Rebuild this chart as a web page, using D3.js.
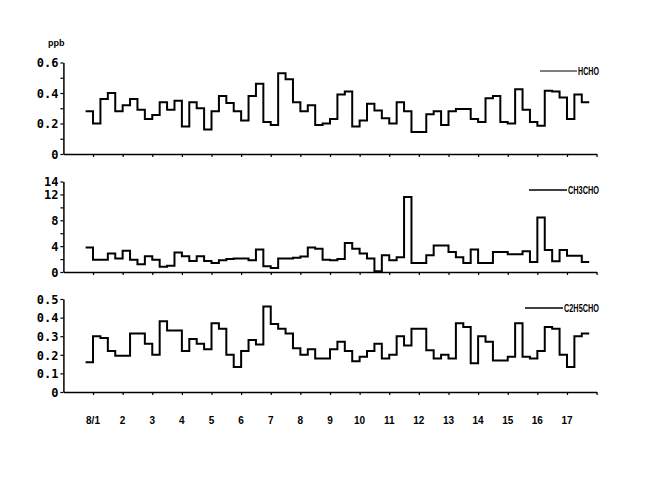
<!DOCTYPE html>
<html>
<head>
<meta charset="utf-8">
<script src="https://cdn.jsdelivr.net/npm/d3@7"></script>
<style>
  html, body { margin: 0; padding: 0; background: #fff; }
  svg { display: block; }
  .ylab { font-family: "DejaVu Sans Mono", monospace; font-weight: bold; font-size: 12px; }
  .xlab { font-family: "Liberation Sans", Arial, sans-serif; font-weight: bold; font-size: 10px; }
  .leg { font-family: "Liberation Sans Narrow", "Liberation Sans", sans-serif; font-weight: bold; font-size: 10px; }
</style>
</head>
<body>
<script>
// ---- data (6-hourly samples, 4 per day, starting 8/1) ----
const dayLabels = ["8/1","2","3","4","5","6","7","8","9","10","11","12","13","14","15","16","17"];

const hcho = [0.28,0.20,0.36,0.40,0.28,0.32,0.36,0.29,0.23,0.255,0.34,0.29,0.35,0.18,0.34,0.30,0.16,0.28,0.38,0.335,0.28,0.22,0.38,0.46,0.21,0.19,0.53,0.49,0.34,0.28,0.32,0.19,
  0.20,0.23,0.39,0.41,0.18,0.22,0.33,0.285,0.235,0.20,0.34,0.28,0.145,0.145,0.26,0.28,0.19,0.28,0.295,0.295,0.23,0.21,0.365,0.38,0.21,0.20,0.425,0.29,0.21,0.185,0.415,0.41,0.37,0.23,0.39,0.34];

const ch3cho = [3.8,1.9,1.9,2.85,2.1,3.3,1.9,1.2,2.45,1.9,0.8,0.95,3.0,2.45,1.7,2.45,1.7,1.4,1.8,2.0,2.1,2.1,1.8,3.5,0.9,0.6,2.1,2.1,2.2,2.4,3.8,3.6,
  1.9,1.8,2.0,4.5,3.6,2.85,2.1,0.1,2.6,1.8,2.3,11.6,1.4,1.4,2.6,4.1,4.1,3.1,2.3,1.4,3.5,1.4,1.4,3.1,3.1,2.75,2.75,3.2,1.55,8.45,3.4,1.65,3.4,2.5,2.5,1.55];

const c2h5cho = [0.16,0.30,0.29,0.22,0.195,0.195,0.315,0.315,0.26,0.20,0.38,0.33,0.33,0.22,0.285,0.26,0.23,0.37,0.34,0.20,0.135,0.22,0.28,0.255,0.46,0.365,0.34,0.315,0.235,0.20,0.23,0.18,
  0.18,0.23,0.27,0.22,0.165,0.19,0.22,0.26,0.18,0.20,0.30,0.25,0.34,0.34,0.225,0.18,0.20,0.18,0.37,0.35,0.155,0.30,0.27,0.17,0.17,0.19,0.37,0.19,0.18,0.22,0.35,0.34,0.20,0.135,0.30,0.315];

const seriesNames = ["HCHO","CH3CHO","C2H5CHO"];
const p1Ticks = [0,0.1,0.2,0.3,0.4,0.5,0.6], p1Labels = ["0","","0.2","","0.4","","0.6"];
const p2Ticks = [0,2,4,6,8,10,12,14], p2Labels = ["0","","4","","8","","12","14"];
const p3Ticks = [0,0.1,0.2,0.3,0.4,0.5], p3Labels = ["0","0.1","0.2","0.3","0.4","0.5"];

// ---- drawing ----
const W = 649, H = 501;
const svg = d3.select("body").append("svg").attr("width", W).attr("height", H);

const x = d3.scaleLinear().domain([0, 18]).range([63.4, 596.6]);
const startDay = 0.75, stepDay = 0.25;

const panels = [
  { data: hcho,    domain: [0, 0.6], range: [154, 62.5], ticks: p1Ticks, labels: p1Labels, name: seriesNames[0], legY: 71,  legX1: 540, legX2: 577 },
  { data: ch3cho,  domain: [0, 14],  range: [272, 181.5], ticks: p2Ticks, labels: p2Labels, name: seriesNames[1], legY: 190, legX1: 529, legX2: 567 },
  { data: c2h5cho, domain: [0, 0.5], range: [392, 299], ticks: p3Ticks, labels: p3Labels, name: seriesNames[2], legY: 308, legX1: 525, legX2: 563 }
];

panels.forEach((p, pi) => {
  const y = d3.scaleLinear().domain(p.domain).range(p.range);
  const g = svg.append("g");

  // y axis
  const ya = g.append("g").attr("transform", `translate(${x(0)},0)`)
    .call(d3.axisLeft(y).tickValues(p.ticks).tickSize(3).tickSizeOuter(0)
      .tickFormat((d, i) => p.labels[i]));
  ya.select(".domain").attr("stroke", "#000").attr("stroke-width", 1.5);
  ya.selectAll(".tick line").attr("stroke", "#000").attr("stroke-width", 1.2);
  ya.selectAll(".tick text").attr("class", "ylab").attr("fill", "#000").attr("x", -5).attr("dy", "0.36em");

  // x axis
  const xa = g.append("g").attr("transform", `translate(0,${p.range[0]})`)
    .call(d3.axisBottom(x).tickValues(d3.range(1, 19)).tickSize(3).tickSizeOuter(0).tickFormat(""));
  xa.select(".domain").attr("stroke", "#000").attr("stroke-width", 1.5);
  xa.selectAll(".tick line").attr("stroke", "#000").attr("stroke-width", 1.2);

  if (pi === 2) {
    g.append("g").selectAll("text").data(dayLabels).join("text")
      .attr("class", "xlab")
      .attr("x", (d, i) => x(i + 1))
      .attr("y", p.range[0] + 32)
      .attr("text-anchor", "middle")
      .text(d => d);
  }

  // step line
  const pts = p.data.map((v, i) => [startDay + i * stepDay, v]);
  pts.push([startDay + p.data.length * stepDay, p.data[p.data.length - 1]]);
  const line = d3.line().x(d => x(d[0])).y(d => y(d[1])).curve(d3.curveStepAfter);
  g.append("path").attr("d", line(pts))
    .attr("fill", "none").attr("stroke", "#000").attr("stroke-width", 2);

  // legend
  g.append("line").attr("x1", p.legX1).attr("x2", p.legX2).attr("y1", p.legY).attr("y2", p.legY)
    .attr("stroke", "#000").attr("stroke-width", pi === 0 ? 1 : 1.5);
  g.append("text").attr("class", "leg").attr("x", p.legX2 + 1).attr("y", p.legY + 4)
    .attr("textLength", 600 - p.legX2 - 2).attr("lengthAdjust", "spacingAndGlyphs")
    .text(p.name);
});

// unit label
svg.append("text").attr("class", "xlab").attr("x", 48).attr("y", 46).style("font-size", "9px").text("ppb");
</script>
</body>
</html>
